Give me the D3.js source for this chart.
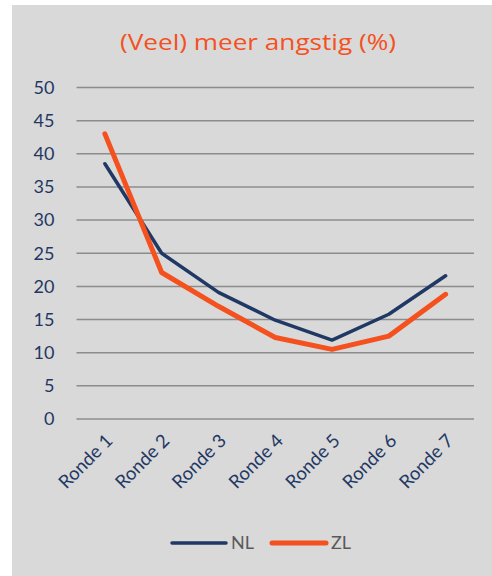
<!DOCTYPE html>
<html><head><meta charset="utf-8">
<script src="https://cdn.jsdelivr.net/npm/d3@7"></script>
<style>html,body{margin:0;padding:0;background:#fff;}svg{display:block;}</style>
</head><body>
<svg id="c" width="492" height="576"></svg>
<script>
const categories = ["Ronde 1","Ronde 2","Ronde 3","Ronde 4","Ronde 5","Ronde 6","Ronde 7"];
const nlValues = [38.5, 25.0, 19.1, 14.9, 11.9, 15.8, 21.6];
const zlValues = [43.0, 22.1, 17.0, 12.3, 10.5, 12.5, 18.8];
const yTicks = [0,5,10,15,20,25,30,35,40,45,50];
const seriesNames = ["NL","ZL"];
const title = "(Veel) meer angstig (%)";

const navy = "#1f3864", orange = "#f4511e";
const svg = d3.select("#c");
svg.append("rect").attr("x",12).attr("y",5).attr("width",480).attr("height",571).attr("fill","#d9d9d9");

const x = d3.scaleBand().domain(categories).range([76.5,474]);
const y = d3.scaleLinear().domain([0,50]).range([419,87.5]);

svg.append("text").attr("x",258).attr("y",50).attr("text-anchor","middle")
  .attr("font-family","'Open Sans', sans-serif").attr("font-size",21).attr("fill",orange)
  .attr("textLength",276).attr("lengthAdjust","spacingAndGlyphs").text(title);

// gridlines
svg.append("g").selectAll("line").data(yTicks).join("line")
  .attr("x1",76.5).attr("x2",474).attr("y1",d=>y(d)).attr("y2",d=>y(d))
  .attr("stroke","#8c8c8c").attr("stroke-width",1.5);

// y axis
const yAxis = svg.append("g").attr("transform","translate(76.5,0)")
  .call(d3.axisLeft(y).tickValues(yTicks).tickSize(0).tickPadding(22));
yAxis.select(".domain").remove();
yAxis.selectAll("text").attr("font-family","Lato, sans-serif").attr("font-size",18).attr("fill",navy);

// x axis
const xAxis = svg.append("g").attr("transform","translate(0,419)")
  .call(d3.axisBottom(x).tickSize(0).tickPadding(0));
xAxis.select(".domain").remove();
xAxis.selectAll("text").attr("font-family","Lato, sans-serif").attr("font-size",18.5).attr("fill",navy)
  .attr("text-anchor","end").attr("dy",0)
  .attr("transform","translate(9,23) rotate(-45)");

const line = d3.line().x((d,i)=>x(categories[i])+x.bandwidth()/2).y(d=>y(d));
svg.append("path").datum(nlValues).attr("d",line).attr("fill","none")
  .attr("stroke",navy).attr("stroke-width",3.5).attr("stroke-linejoin","round").attr("stroke-linecap","round");
svg.append("path").datum(zlValues).attr("d",line).attr("fill","none")
  .attr("stroke",orange).attr("stroke-width",5).attr("stroke-linejoin","round").attr("stroke-linecap","round");

// legend
const leg = [{n:seriesNames[0],c:navy,w:3.5,x:172},{n:seriesNames[1],c:orange,w:5,x:272}];
const lg = svg.append("g");
leg.forEach(l=>{
  lg.append("line").attr("x1",l.x).attr("x2",l.x+54).attr("y1",543).attr("y2",543)
    .attr("stroke",l.c).attr("stroke-width",l.w).attr("stroke-linecap","round");
  lg.append("text").attr("x",l.x+59).attr("y",549).attr("font-family","Lato, sans-serif")
    .attr("font-size",18).attr("fill","#595959").text(l.n);
});
</script>
</body></html>
